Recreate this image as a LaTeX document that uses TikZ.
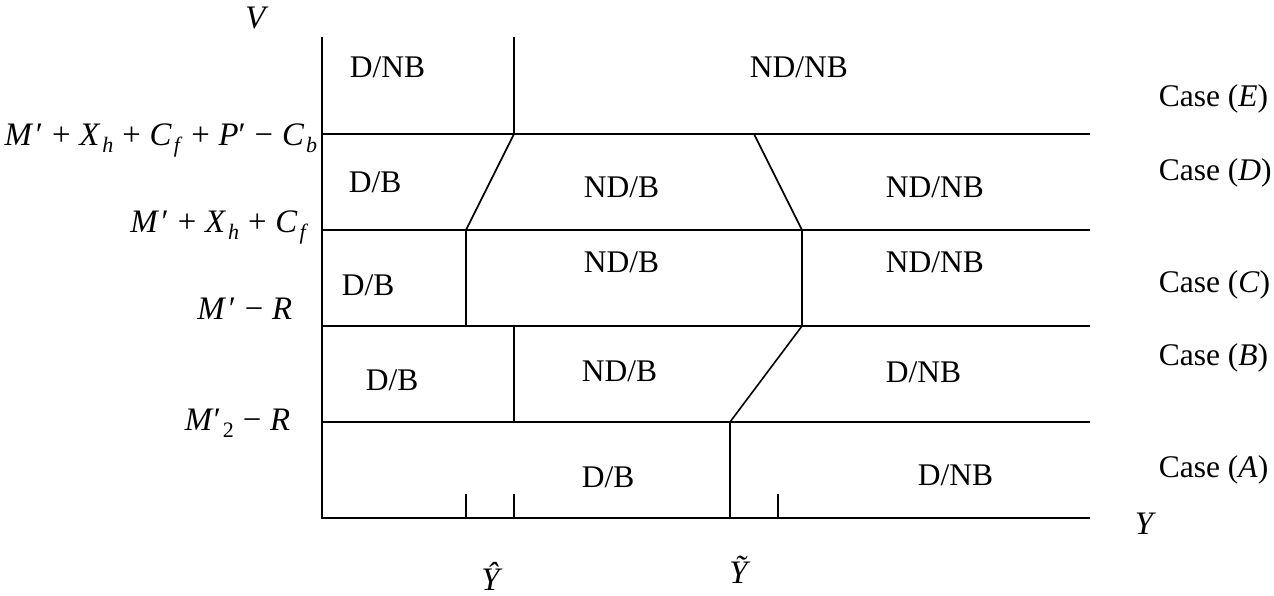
\documentclass[tikz,border=0pt]{standalone}
\usepackage{fontspec}
\setmainfont{Liberation Serif}
\newcommand{\sbs}[1]{\kern0.06em\raisebox{-3.9pt}{\fontsize{11}{12}\selectfont #1}}
\newcommand{\opr}[1]{\hspace{0.27em}#1\hspace{0.27em}}
\newcommand{\Mp}{\textit{M}\kern0.08em′}
\begin{document}
\begin{tikzpicture}[x=0.5pt,y=-0.5pt,line width=0.8pt,
  txt/.style={inner sep=0pt,font=\fontsize{15.75}{18}\selectfont},
  mth/.style={inner sep=0pt,font=\fontsize{16.4}{19}\selectfont},
  lw/.style={txt,anchor=base west},
  le/.style={mth,anchor=base east},
  lc/.style={mth,anchor=base}]
\useasboundingbox (0,0) rectangle (1274,595);
% axes
\coordinate (top) at (322,37);
\coordinate (org) at (322,518);
\coordinate (xend) at (1090,518);
\draw (top) -- (org) -- (xend);
% horizontal separators
\foreach \yy in {134,230,326,422}
  \draw (322,\yy) -- (1090,\yy);
% left boundary
\draw (514,37) -- (514,134) -- (466,230) -- (466,326);
\draw (514,326) -- (514,422);
% right boundary
\draw (754,134) -- (802,230) -- (802,326) -- (730,422) -- (730,518);
% ticks
\draw (466,494) -- (466,518);
\draw (514,494) -- (514,518);
\draw (778,494) -- (778,518);
% axis labels
\node[lc] (V) at (257,28) {\textit{V}};
\node[lc,anchor=base west] (Y) at (1134,534) {\textit{Y}};
\node[lc] (Yhat) at (492,590) {\textit{Ŷ}};
\node[lc] (Ytil) at (740,583) {\textit{Ỹ}};
% V-axis labels
\node[le] (v4) at (318,145) {\Mp\opr{+}\textit{X}\sbs{\textit{h}}\opr{+}\textit{C}\sbs{\textit{f}}\opr{+}\textit{P}′\opr{−}\textit{C}\sbs{\textit{b}}};
\node[le] (v3) at (309,232) {\Mp\opr{+}\textit{X}\sbs{\textit{h}}\opr{+}\textit{C}\sbs{\textit{f}}};
\node[le] (v2) at (293,319) {\Mp\opr{−}\textit{R}};
\node[le] (v1) at (291,430) {\textit{M}′\sbs{2}\opr{−}\textit{R}};
% row E
\node[lw] (e1) at (349,77) {D/NB};
\node[lw] (e2) at (749,77) {ND/NB};
% row D
\node[lw] (d1) at (348,192) {D/B};
\node[lw] (d2) at (583,197) {ND/B};
\node[lw] (d3) at (885,197) {ND/NB};
% row C
\node[lw] (c1) at (341,295) {D/B};
\node[lw] (c2) at (583,272) {ND/B};
\node[lw] (c3) at (885,272) {ND/NB};
% row B
\node[lw] (b1) at (365,390) {D/B};
\node[lw] (b2) at (581,381) {ND/B};
\node[lw] (b3) at (885,382) {D/NB};
% row A
\node[lw] (a1) at (581,487) {D/B};
\node[lw] (a2) at (917,485) {D/NB};
% cases
\node[lw] (cE) at (1158,106) {Case (\textit{E})};
\node[lw] (cD) at (1158,180) {Case (\textit{D})};
\node[lw] (cC) at (1158,292) {Case (\textit{C})};
\node[lw] (cB) at (1158,365) {Case (\textit{B})};
\node[lw] (cA) at (1158,477) {Case (\textit{A})};
\end{tikzpicture}
\end{document}
